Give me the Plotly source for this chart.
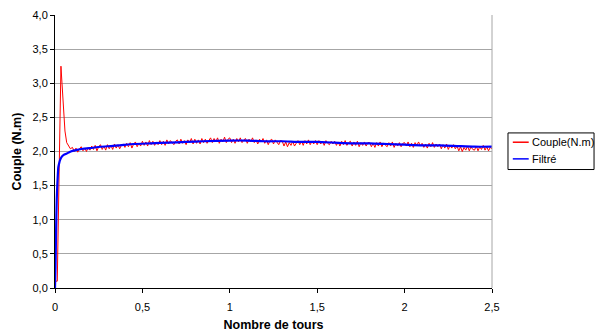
import numpy as np
import plotly.graph_objects as go

# Raw torque signal (Couple) - start-up transient
red_x_start = [0.0, 0.003, 0.013, 0.020, 0.027, 0.034, 0.040, 0.048, 0.057, 0.067, 0.078, 0.088]
red_y_start = [0.0, 0.10, 0.10, 1.20, 2.50, 3.25, 3.00, 2.70, 2.30, 2.13, 2.07, 2.04]

# Raw torque signal, steady part sampled every 0.01 turn from 0.10 to 2.50
red_y_tail = [
    2.06, 2.00, 2.05, 1.99, 2.04, 2.07, 2.01, 2.05, 2.00, 2.06,
    2.02, 2.08, 2.03, 2.09, 2.01, 2.07, 2.10, 2.03, 2.08, 2.02,
    2.10, 2.04, 2.09, 2.03, 2.11, 2.05, 2.10, 2.04, 2.09, 2.11,
    2.06, 2.12, 2.07, 2.13, 2.05, 2.11, 2.14, 2.07, 2.12, 2.08,
    2.15, 2.09, 2.14, 2.08, 2.16, 2.10, 2.15, 2.09, 2.14, 2.10,
    2.16, 2.10, 2.15, 2.09, 2.17, 2.11, 2.16, 2.12, 2.10, 2.15,
    2.17, 2.11, 2.18, 2.12, 2.16, 2.10, 2.17, 2.13, 2.19, 2.11,
    2.18, 2.12, 2.17, 2.11, 2.19, 2.13, 2.18, 2.12, 2.17, 2.20,
    2.13, 2.19, 2.14, 2.20, 2.12, 2.18, 2.14, 2.21, 2.13, 2.18,
    2.20, 2.13, 2.18, 2.12, 2.19, 2.14, 2.20, 2.13, 2.17, 2.19,
    2.12, 2.18, 2.14, 2.20, 2.13, 2.17, 2.11, 2.18, 2.14, 2.19,
    2.12, 2.17, 2.10, 2.16, 2.18, 2.11, 2.17, 2.13, 2.10, 2.16,
    2.15, 2.08, 2.14, 2.07, 2.13, 2.09, 2.15, 2.08, 2.13, 2.16,
    2.10, 2.15, 2.09, 2.16, 2.11, 2.17, 2.10, 2.15, 2.11, 2.16,
    2.10, 2.16, 2.11, 2.15, 2.09, 2.16, 2.12, 2.10, 2.15, 2.11,
    2.15, 2.09, 2.14, 2.08, 2.15, 2.10, 2.16, 2.09, 2.13, 2.15,
    2.08, 2.14, 2.09, 2.15, 2.07, 2.13, 2.09, 2.14, 2.08, 2.13,
    2.13, 2.07, 2.12, 2.06, 2.13, 2.08, 2.14, 2.07, 2.12, 2.09,
    2.07, 2.13, 2.08, 2.14, 2.06, 2.12, 2.08, 2.13, 2.07, 2.12,
    2.13, 2.08, 2.14, 2.07, 2.12, 2.06, 2.13, 2.09, 2.14, 2.08,
    2.12, 2.06, 2.11, 2.05, 2.12, 2.07, 2.13, 2.06, 2.11, 2.07,
    2.11, 2.04, 2.10, 2.05, 2.11, 2.03, 2.09, 2.05, 2.10, 2.04,
    2.08, 2.01, 2.07, 2.00, 2.06, 2.02, 2.08, 2.01, 2.07, 2.03,
    2.02, 2.08, 2.01, 2.07, 2.03, 2.09, 2.02, 2.07, 2.01, 2.06,
    2.04,
]
red_x_tail = list(np.round(np.linspace(0.10, 2.50, len(red_y_tail)), 3))

# Filtered signal (Filtré)
blue_x = [0.0, 0.003, 0.006, 0.010, 0.013, 0.016, 0.019, 0.025, 0.030, 0.038,
          0.050, 0.067, 0.090, 0.120, 0.160, 0.200, 0.260, 0.320, 0.370, 0.450,
          0.550, 0.650, 0.750, 0.850, 1.000, 1.100, 1.200, 1.300, 1.400, 1.500,
          1.600, 1.700, 1.800, 1.900, 2.000, 2.100, 2.200, 2.300, 2.400, 2.500]
blue_y = [0.0, 0.30, 0.80, 1.30, 1.50, 1.65, 1.77, 1.84, 1.88, 1.92,
          1.95, 1.97, 2.00, 2.02, 2.04, 2.05, 2.07, 2.08, 2.09, 2.11,
          2.12, 2.13, 2.14, 2.15, 2.16, 2.16, 2.15, 2.15, 2.14, 2.14,
          2.13, 2.12, 2.12, 2.11, 2.10, 2.09, 2.09, 2.08, 2.07, 2.07]

series_names = ["Couple(N.m)", "Filtré"]
series_colors = ["#FF0000", "#0000FF"]

x_ticks = [0, 0.5, 1, 1.5, 2, 2.5]
x_tick_labels = ["0", "0,5", "1", "1,5", "2", "2,5"]
y_ticks = [0, 0.5, 1, 1.5, 2, 2.5, 3, 3.5, 4]
y_tick_labels = ["0,0", "0,5", "1,0", "1,5", "2,0", "2,5", "3,0", "3,5", "4,0"]

FONT = "Liberation Sans, Arial, sans-serif"

fig = go.Figure()
fig.add_trace(go.Scatter(
    x=red_x_start + red_x_tail, y=red_y_start + red_y_tail,
    mode="lines", name=series_names[0],
    line=dict(color=series_colors[0], width=1),
))
fig.add_trace(go.Scatter(
    x=blue_x, y=blue_y, mode="lines", name=series_names[1],
    line=dict(color=series_colors[1], width=2.2, shape="spline", smoothing=0.6),
))

# Legend drawn as an Excel-style box (paper coordinates of the plot area)
L_x0, L_x1, L_y0, L_y1 = 1.0366, 1.2335, 0.434, 0.568
entry_y = [0.534, 0.473]
shapes = [
    dict(type="line", xref="paper", yref="paper", x0=1, x1=1, y0=0, y1=1,
         line=dict(color="#A6A6A6", width=1)),
    dict(type="rect", xref="paper", yref="paper", x0=L_x0, x1=L_x1, y0=L_y0, y1=L_y1,
         line=dict(color="black", width=1), fillcolor="white"),
]
annotations = []
for name, color, ey in zip(series_names, series_colors, entry_y):
    shapes.append(dict(type="line", xref="paper", yref="paper", x0=1.0476, x1=1.0840,
                       y0=ey, y1=ey, line=dict(color=color, width=1.5)))
    annotations.append(dict(xref="paper", yref="paper", x=1.0870, y=ey, text=name,
                            showarrow=False, xanchor="left", yanchor="middle",
                            font=dict(family=FONT, size=11, color="black")))

fig.update_layout(
    width=597, height=334,
    margin=dict(l=55, r=105, t=15, b=46, autoexpand=False),
    paper_bgcolor="white", plot_bgcolor="white",
    font=dict(family=FONT, size=11, color="black"),
    showlegend=False,
    xaxis=dict(
        range=[0, 2.5], tickmode="array", tickvals=x_ticks, ticktext=x_tick_labels,
        showgrid=False, zeroline=False, showline=True, linecolor="black", linewidth=1,
        ticks="outside", ticklen=4, tickcolor="black", automargin=False,
        ticklabelstandoff=5,
        title=dict(text="<b>Nombre de tours</b>", font=dict(size=12.5), standoff=8),
    ),
    yaxis=dict(
        range=[0, 4], tickmode="array", tickvals=y_ticks, ticktext=y_tick_labels,
        showgrid=True, gridcolor="#A6A6A6", gridwidth=1,
        zeroline=False, showline=True, linecolor="black", linewidth=1,
        ticks="outside", ticklen=4, tickcolor="black", automargin=False,
        title=dict(text="<b>Couple (N.m)</b>", font=dict(size=12.5), standoff=8),
    ),
    shapes=shapes,
    annotations=annotations,
)

fig.write_html("out.html", config={"displayModeBar": False},
               post_script="document.body.style.margin='0px';")
